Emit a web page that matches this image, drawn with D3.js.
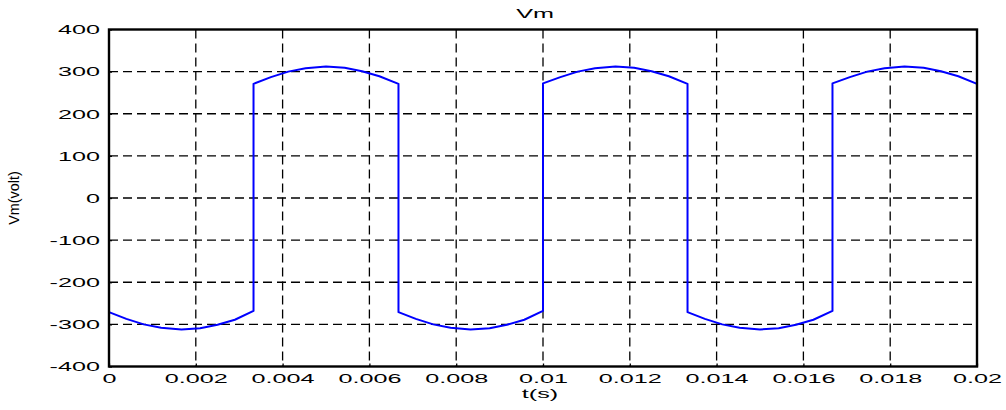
<!DOCTYPE html>
<html>
<head>
<meta charset="utf-8">
<script src="https://cdnjs.cloudflare.com/ajax/libs/d3/7.8.5/d3.min.js"></script>
<style>
    html, body {
        margin: 0;
        padding: 0;
        background: white;
    }

    svg text {
        font-family: "Liberation Sans", Arial, sans-serif;
        font-size: 12px;
        fill: black;
    }

    .grid line {
        stroke: black;
        stroke-width: 1.3;
        stroke-dasharray: 9, 5;
    }
</style>
</head>
<body>
<svg id="chart" width="1006" height="410"></svg>
<script>
    // values
    var time = [
        0, 0.0004, 0.0008, 0.0012, 0.00167, 0.0021, 0.0025, 0.0029, 0.00333,
        0.00333, 0.00373, 0.00413, 0.00453, 0.005, 0.00543, 0.00583, 0.00623, 0.00667,
        0.00667, 0.00707, 0.00747, 0.00787, 0.00833, 0.00877, 0.00917, 0.00957, 0.01,
        0.01, 0.0104, 0.0108, 0.0112, 0.01167, 0.0121, 0.0125, 0.0129, 0.01333,
        0.01333, 0.01373, 0.01413, 0.01453, 0.015, 0.01543, 0.01583, 0.01623, 0.01667,
        0.01667, 0.01707, 0.01747, 0.01787, 0.01833, 0.01877, 0.01917, 0.01957, 0.02
    ];
    var vm = [
        -271, -287, -300, -308, -312, -309, -301, -289, -268,
        271, 287, 300, 308, 312, 309, 301, 289, 271,
        -271, -287, -300, -308, -312, -309, -301, -289, -268,
        272, 287, 300, 308, 312, 309, 301, 289, 271,
        -271, -287, -300, -308, -312, -309, -301, -289, -268,
        272, 287, 300, 308, 312, 309, 301, 289, 271
    ];
    var xTicks = [0, 0.002, 0.004, 0.006, 0.008, 0.01, 0.012, 0.014, 0.016, 0.018, 0.02];
    var yTicks = [-400, -300, -200, -100, 0, 100, 200, 300, 400];
    var title = "Vm", xLabel = "t(s)", yLabel = "Vm(volt)";

    var svg = d3.select("#chart");
    var plotL = 109, plotR = 977, plotT = 29.5, plotB = 366.5;
    var stretch = 2.1; // the lettering in the picture is wide

    var x = d3.scaleLinear().domain([0, 0.02]).range([plotL, plotR]);
    var y = d3.scaleLinear().domain([-400, 400]).range([plotB, plotT]);

    // grid
    var grid = svg.append("g").attr("class", "grid");
    grid.selectAll("line.v")
        .data(xTicks.slice(1, -1))
        .enter().append("line")
        .attr("class", "v")
        .attr("x1", function (d) { return x(d); })
        .attr("x2", function (d) { return x(d); })
        .attr("y1", plotT)
        .attr("y2", plotB);
    grid.selectAll("line.h")
        .data(yTicks.slice(1, -1))
        .enter().append("line")
        .attr("class", "h")
        .attr("y1", function (d) { return y(d); })
        .attr("y2", function (d) { return y(d); })
        .attr("x1", plotL)
        .attr("x2", plotR);

    // signal
    var pts = time.map(function (t, i) { return [t, vm[i]]; });
    svg.append("path")
        .datum(pts)
        .attr("fill", "none")
        .attr("stroke", "#0000ff")
        .attr("stroke-width", 2)
        .attr("stroke-linejoin", "round")
        .attr("d", d3.line()
            .x(function (d) { return x(d[0]); })
            .y(function (d) { return y(d[1]); }));

    // axes
    var fmt = function (d) { return String(d); };
    var xAxis = svg.append("g")
        .attr("transform", "translate(0," + plotB + ")")
        .call(d3.axisBottom(x).tickValues(xTicks).tickFormat(fmt).tickSize(-3));
    xAxis.selectAll("text")
        .attr("y", 0).attr("dy", 0)
        .attr("transform", "translate(0,16.5) scale(" + stretch + ",1)");

    var yAxis = svg.append("g")
        .attr("transform", "translate(" + plotL + ",0)")
        .call(d3.axisLeft(y).tickValues(yTicks).tickFormat(fmt).tickSize(-3));
    yAxis.selectAll("text")
        .attr("x", 0).attr("dy", 0)
        .attr("transform", "translate(-9,4.3) scale(" + stretch + ",1)");

    svg.selectAll(".domain").remove();
    svg.selectAll(".tick line").attr("stroke", "black").attr("stroke-width", 1.3);
    svg.selectAll(".tick text").style("font-size", "12px").attr("fill", "black");

    // box
    svg.append("rect")
        .attr("x", plotL).attr("y", plotT)
        .attr("width", plotR - plotL).attr("height", plotB - plotT)
        .attr("fill", "none")
        .attr("stroke", "black")
        .attr("stroke-width", 2.4);

    // labels
    svg.append("text")
        .attr("text-anchor", "middle")
        .attr("transform", "translate(535,18) scale(" + stretch + ",1)")
        .text(title);
    svg.append("text")
        .attr("text-anchor", "middle")
        .attr("transform", "translate(540,398) scale(" + stretch + ",1)")
        .text(xLabel);
    svg.append("text")
        .attr("text-anchor", "middle")
        .attr("transform", "translate(19,198) rotate(-90) scale(1.2,1.15)")
        .text(yLabel);
</script>
</body>
</html>
